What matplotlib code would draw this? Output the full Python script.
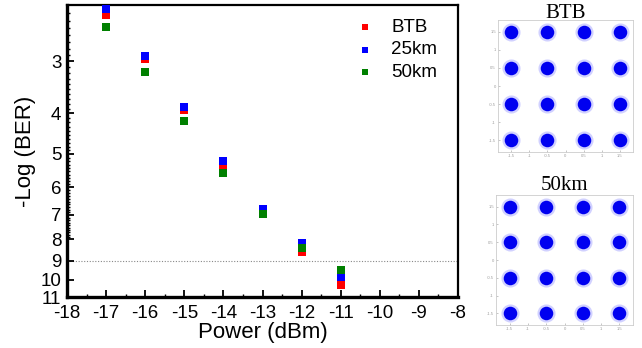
import numpy as np
import matplotlib
matplotlib.use("Agg")
import matplotlib.pyplot as plt
from matplotlib.ticker import FixedLocator, NullFormatter, FixedFormatter

# ---- data ----
power = [-17, -16, -15, -14, -13, -12, -11]
btb = [2.32, 2.97, 3.93, 5.40, 6.90, 8.58, 10.28]
km25 = [2.25, 2.91, 3.86, 5.20, 6.77, 8.18, 9.85]
km50 = [2.48, 3.19, 4.17, 5.55, 6.96, 8.41, 9.50]
series_labels = ["BTB", "25km", "50km"]
series_colors = ["#ff0000", "#0000ff", "#008000"]
y_ticks = [3, 4, 5, 6, 7, 8, 9, 10, 11]
x_ticks = [-18, -17, -16, -15, -14, -13, -12, -11, -10, -9, -8]
threshold = 9

# 16-QAM ideal symbol levels for the constellation insets
iq_levels = [-1.5, -0.5, 0.5, 1.5]
const_titles = ["BTB", "50km"]
const_ticks = [-1.5, -1, -0.5, 0, 0.5, 1, 1.5]

plt.rcParams['font.family'] = ['Liberation Sans', 'DejaVu Sans']

fig = plt.figure(figsize=(6.42, 3.48), dpi=100)
W, H = 642, 348

def ax_rect(l, t, r, b):
    return [l / W, 1 - b / H, (r - l) / W, (b - t) / H]

ax = fig.add_axes(ax_rect(67, 5, 458, 297))
ax.set_yscale('log')
ax.set_xlim(-18, -8)
ax.set_ylim(11, 2.2)

for vals, lab, col in zip([btb, km25, km50], series_labels, series_colors):
    ax.scatter(power, vals, marker='s', s=40, color=col, label=lab,
               linewidths=0, zorder=3)

ax.axhline(threshold, color='#888888', lw=0.8, ls=(0, (1, 1.5)), zorder=1)

ax.yaxis.set_major_locator(FixedLocator(y_ticks))
ax.yaxis.set_major_formatter(FixedFormatter([str(t) for t in y_ticks]))
ax.yaxis.set_minor_locator(FixedLocator(list(np.arange(2.3, 8.0, 0.1))))
ax.yaxis.set_minor_formatter(NullFormatter())
ax.xaxis.set_major_locator(FixedLocator(x_ticks))
ax.xaxis.set_minor_locator(FixedLocator(list(np.arange(-17.5, -8, 1.0))))
ax.set_xticklabels([str(t) for t in x_ticks])

ax.tick_params(axis='both', which='major', direction='in', length=5, width=1.3,
               labelsize=13.5)
ax.tick_params(axis='x', pad=6)
ax.tick_params(axis='y', pad=4)
ax.tick_params(axis='both', which='minor', direction='in', length=2.5, width=1.0)

for side in ['left', 'bottom']:
    ax.spines[side].set_linewidth(2.4)
for side in ['top', 'right']:
    ax.spines[side].set_linewidth(1.6)

ax.set_xlabel('Power (dBm)', fontsize=16, labelpad=0)
ax.set_ylabel('-Log (BER)', fontsize=16, labelpad=3)

leg = ax.legend(loc='upper right', bbox_to_anchor=(0.99, 1.01), frameon=False,
                fontsize=13.5, handletextpad=0.9, markerscale=0.75,
                labelspacing=0.28, handlelength=1.0)

# ---- constellation insets ----
boxes = [(498, 20, 633, 152), (496, 195, 633, 325)]
title_y = [13, 185]
for (l, t, r, b), title, ty in zip(boxes, const_titles, title_y):
    cax = fig.add_axes(ax_rect(l, t, r, b))
    cax.set_xlim(-1.87, 1.87)
    cax.set_ylim(-1.83, 1.83)
    I, Q = np.meshgrid(iq_levels, iq_levels)
    I = I.ravel()
    Q = Q.ravel()
    cax.scatter(I, Q, s=170, color='#4a4aff', alpha=0.25, linewidths=0, zorder=2)
    cax.scatter(I, Q, s=95, color='#0000f0', linewidths=0, zorder=4)
    cax.set_xticks(const_ticks)
    cax.set_yticks(const_ticks)
    cax.set_xticklabels([str(t) for t in const_ticks])
    cax.set_yticklabels([str(t) for t in const_ticks])
    cax.tick_params(labelsize=3, colors='#999999', length=1.5, width=0.4,
                    direction='in', pad=1.5)
    for sp in cax.spines.values():
        sp.set_color('#cccccc')
        sp.set_linewidth(0.6)
    fig.text((l + r) / 2 / W, 1 - ty / H, title, fontsize=15,
             family=['Liberation Serif', 'DejaVu Serif'], ha='center', va='center')

fig.savefig('out.png', dpi=100)
